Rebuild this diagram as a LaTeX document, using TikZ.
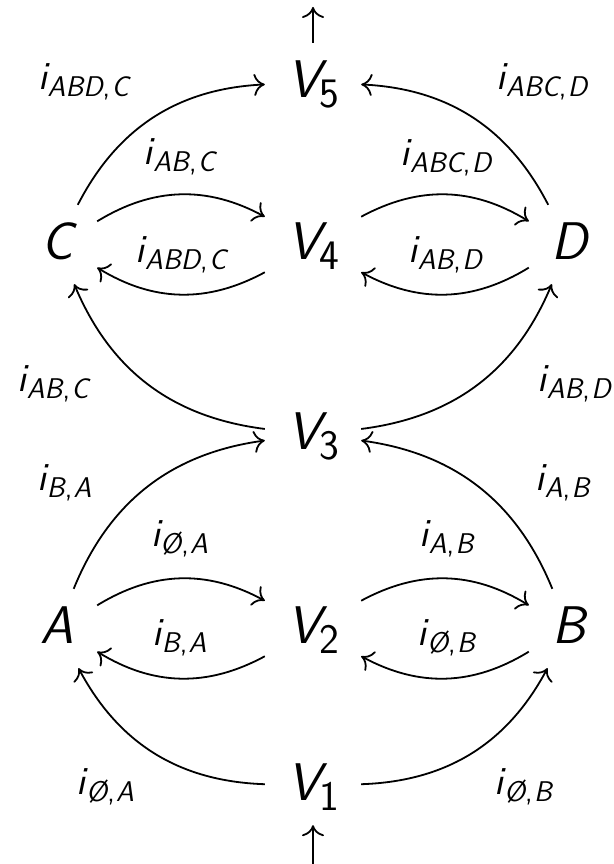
\documentclass[tikz,border=0pt]{standalone}
\usepackage{fontspec}
\usetikzlibrary{arrows.meta}
\newcommand{\Vsub}[1]{\textit{V}\kern-1pt\raisebox{-10pt}{\fontsize{42}{44}\selectfont\upshape #1}}
\newcommand{\isub}[1]{\textit{i}\kern0.5pt\raisebox{-7pt}{\fontsize{28.5}{30}\selectfont\itshape #1}}
\newcommand{\cm}{{\upshape,}\kern1.5pt}
\newcommand{\emp}{Ø}
\begin{document}
\begin{tikzpicture}[x=1pt,y=1pt,
  obj/.style={font=\fontsize{53}{60}\selectfont\sffamily\itshape, text height=37pt, text depth=6pt, inner ysep=18pt, inner xsep=0pt, anchor=base},
  letter/.style={obj, minimum width=80pt},
  vert/.style={obj, minimum width=96pt},
  lbl/.style={font=\fontsize{40}{44}\selectfont\sffamily\itshape, inner sep=0pt, anchor=base},
  arr/.style={-{Computer Modern Rightarrow[length=11pt,width=22pt]}, line width=1.8pt},
  bl/.style={arr, bend left=30},
  br/.style={arr, bend right=30}]
\useasboundingbox (0,0) rectangle (613,864);
% objects
\node[vert]   (V5) at (313,766) {\Vsub{5}};
\node[letter] (C)  at (57,604)  {C};
\node[vert]   (V4) at (313,604) {\Vsub{4}};
\node[letter] (D)  at (569,604) {D};
\node[vert]   (V3) at (313,414) {\Vsub{3}};
\node[letter] (A)  at (57,220)  {A};
\node[vert]   (V2) at (313,220) {\Vsub{2}};
\node[letter] (B)  at (569,220) {B};
\node[vert]   (V1) at (313,63)  {\Vsub{1}};
\coordinate (top) at (313,857);
\coordinate (bot) at (313,-6);
% labels
\node[lbl] (l1)  at (83.5,774) {\isub{ABD\cm C}};
\node[lbl] (l2)  at (542,774)  {\isub{ABC\cm D}};
\node[lbl] (l3)  at (179.5,699) {\isub{AB\cm C}};
\node[lbl] (l4)  at (446,698)  {\isub{ABC\cm D}};
\node[lbl] (l5)  at (181,601)  {\isub{ABD\cm C}};
\node[lbl] (l6)  at (445,601)  {\isub{AB\cm D}};
\node[lbl] (l7)  at (53,472)   {\isub{AB\cm C}};
\node[lbl] (l8)  at (574,472)  {\isub{AB\cm D}};
\node[lbl] (l9)  at (64.5,373) {\isub{B\cm A}};
\node[lbl] (l10) at (562.5,373) {\isub{A\cm B}};
\node[lbl] (l11) at (179.5,317) {\isub{\emp\cm A}};
\node[lbl] (l12) at (446.5,317) {\isub{A\cm B}};
\node[lbl] (l13) at (179.5,218) {\isub{B\cm A}};
\node[lbl] (l14) at (446.5,218) {\isub{\emp\cm B}};
\node[lbl] (l15) at (105.5,69) {\isub{\emp\cm A}};
\node[lbl] (l16) at (523.5,69) {\isub{\emp\cm B}};
% connectors
\draw[arr] (V5) -- (top);
\draw[arr] (bot) -- (V1);
\draw[bl] (C) to (V5);
\draw[br] (D) to (V5);
\draw[bl] (C) to (V4);
\draw[bl] (V4) to (C);
\draw[bl] (V4) to (D);
\draw[bl] (D) to (V4);
\draw[bl] (V3) to (C);
\draw[br] (V3) to (D);
\draw[bl] (A) to (V3);
\draw[br] (B) to (V3);
\draw[bl] (A) to (V2);
\draw[bl] (V2) to (A);
\draw[bl] (V2) to (B);
\draw[bl] (B) to (V2);
\draw[bl] (V1) to (A);
\draw[br] (V1) to (B);
\end{tikzpicture}
\end{document}
